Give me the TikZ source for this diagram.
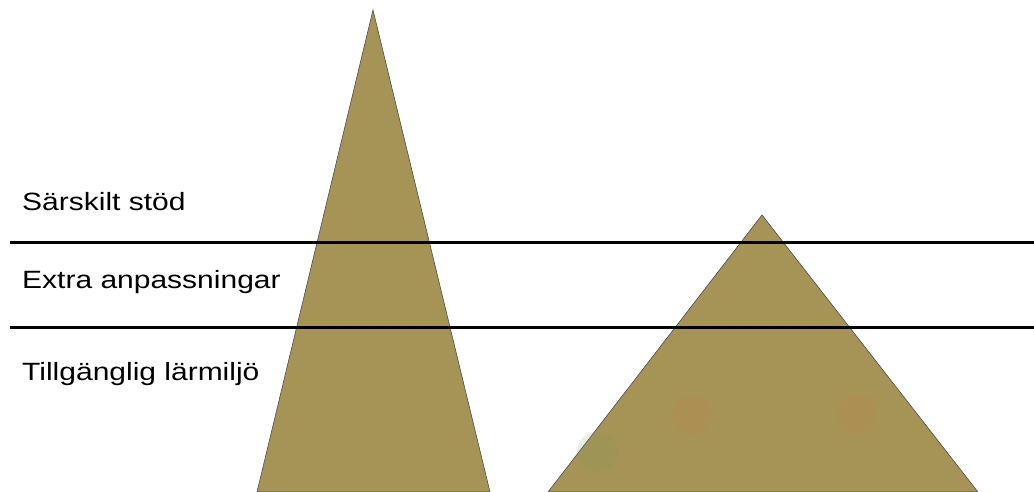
\documentclass[tikz,border=0pt]{standalone}
\usepackage{fontspec}
\setmainfont{Liberation Sans}
\definecolor{khaki}{RGB}{166,148,86}
\definecolor{blobred}{RGB}{200,120,70}
\definecolor{blobgreen}{RGB}{110,150,80}
\newcommand{\widetext}[1]{\scalebox{1.2}[1]{#1}}
\tikzset{
  pyr/.style={fill=khaki, draw=black!70, line width=0.6pt, line join=miter},
  level/.style={draw=black, line width=3pt},
  lbl/.style={anchor=base west, inner sep=0pt, font=\fontsize{25}{29}\selectfont},
  blob/.style={circle, inner sep=0pt, minimum size=40pt, opacity=0.15}
}
\begin{document}
\begin{tikzpicture}[x=1pt,y=-1pt]
\useasboundingbox (0,0) rectangle (1034,492);
% pyramids
\coordinate (a1) at (373,10);
\coordinate (l1) at (257,492);
\coordinate (r1) at (490,492);
\coordinate (a2) at (762,215);
\coordinate (l2) at (548,492);
\coordinate (r2) at (978,492);
\draw[pyr] (a1) -- (r1) -- (l1) -- cycle;
\draw[pyr] (a2) -- (r2) -- (l2) -- cycle;
% faint spots
\node[blob, fill=blobgreen] (g1) at (597,452) {};
\node[blob, fill=blobred] (s1) at (692,415) {};
\node[blob, fill=blobred] (s2) at (857,414) {};
% level lines
\coordinate (h1a) at (10,242);
\coordinate (h1b) at (1034,242);
\coordinate (h2a) at (10,327);
\coordinate (h2b) at (1034,327);
\draw[level] (h1a) -- (h1b);
\draw[level] (h2a) -- (h2b);
% labels
\node[lbl] (t1) at (22,211) {\widetext{Särskilt stöd}};
\node[lbl] (t2) at (22,288) {\widetext{Extra anpassningar}};
\node[lbl] (t3) at (22,380) {\widetext{Tillgänglig lärmiljö}};
\end{tikzpicture}
\end{document}
